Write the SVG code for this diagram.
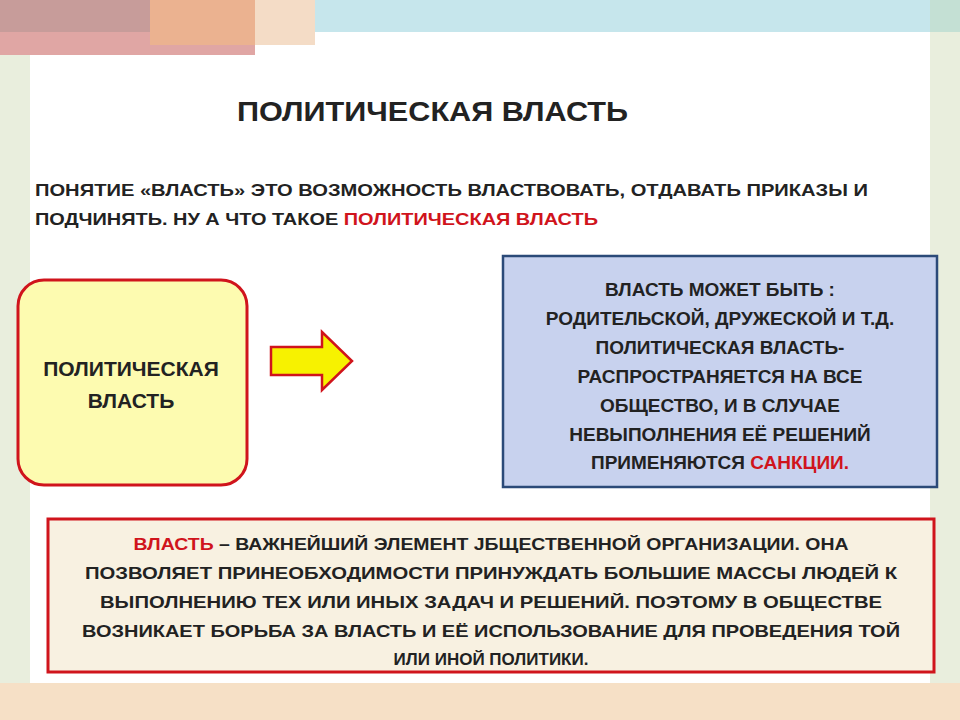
<svg xmlns="http://www.w3.org/2000/svg" width="960" height="720" viewBox="0 0 960 720">
<style>
text{font-family:"Liberation Sans",Arial,sans-serif;font-weight:bold;fill:#222}
.t{font-size:17px}
.b{font-size:19px}
.c{text-anchor:middle}
.r{fill:#d0141c}
</style>
<rect width="960" height="720" fill="#fff"/>
<g id="decor">
<rect x="315" y="0" width="645" height="32" fill="#c6e6ec"/>
<rect x="0" y="55" width="30" height="630" fill="#e9eedd"/>
<rect x="930" y="0" width="30" height="685" fill="#e9eedd"/>
<rect x="930" y="0" width="30" height="32" fill="#c4e0d4"/>
<rect x="0" y="683" width="960" height="37" fill="#f6e0c6"/>
<rect x="0" y="0" width="255" height="55" fill="#e0a6a4"/>
<rect x="0" y="0" width="150" height="32" fill="#c79c9a"/>
<rect x="150" y="0" width="105" height="45" fill="#ebb290"/>
<rect x="255" y="0" width="60" height="45" fill="#f4dcc6"/>
</g>
<g id="title"><text x="237" y="121" font-size="28" textLength="391" lengthAdjust="spacingAndGlyphs">ПОЛИТИЧЕСКАЯ ВЛАСТЬ</text></g>
<g id="intro">
<text x="35" y="196" class="t" textLength="833" lengthAdjust="spacingAndGlyphs">ПОНЯТИЕ «ВЛАСТЬ»   ЭТО ВОЗМОЖНОСТЬ ВЛАСТВОВАТЬ, ОТДАВАТЬ ПРИКАЗЫ И</text>
<text x="35" y="225" class="t" textLength="563" lengthAdjust="spacingAndGlyphs">ПОДЧИНЯТЬ. НУ  А ЧТО ТАКОЕ <tspan class="r">ПОЛИТИЧЕСКАЯ ВЛАСТЬ</tspan></text>
</g>
<g id="node-political">
<rect x="18" y="280" width="229" height="205" rx="26" fill="#fdfbb0" stroke="#d0141c" stroke-width="3"/>
<text x="131" y="376" class="c" font-size="21">ПОЛИТИЧЕСКАЯ</text>
<text x="131" y="408" class="c" font-size="21">ВЛАСТЬ</text>
</g>
<g id="connectors">
<polygon points="271,347 322,347 322,332 352,361 322,390 322,375 271,375" fill="#f7f200" stroke="#d0141c" stroke-width="2.5"/>
</g>
<g id="node-info">
<rect x="503" y="256" width="434" height="231" fill="#c8d2ee" stroke="#2b4a78" stroke-width="2.5"/>
<text x="720" y="296" class="c b">ВЛАСТЬ МОЖЕТ БЫТЬ :</text>
<text x="720" y="325" class="c b">РОДИТЕЛЬСКОЙ, ДРУЖЕСКОЙ И Т.Д.</text>
<text x="720" y="354" class="c b">ПОЛИТИЧЕСКАЯ ВЛАСТЬ-</text>
<text x="720" y="383" class="c b">РАСПРОСТРАНЯЕТСЯ НА ВСЕ</text>
<text x="720" y="412" class="c b">ОБЩЕСТВО, И В СЛУЧАЕ</text>
<text x="720" y="441" class="c b">НЕВЫПОЛНЕНИЯ ЕЁ РЕШЕНИЙ</text>
<text x="720" y="469" class="c b">ПРИМЕНЯЮТСЯ <tspan class="r">САНКЦИИ.</tspan></text>
</g>
<g id="node-definition">
<rect x="48" y="519" width="886" height="153" fill="#f8f1e1" stroke="#d0141c" stroke-width="3"/>
<text x="491" y="550" class="c t" textLength="715" lengthAdjust="spacingAndGlyphs"><tspan class="r">ВЛАСТЬ</tspan> – ВАЖНЕЙШИЙ ЭЛЕМЕНТ  ЈБЩЕСТВЕННОЙ ОРГАНИЗАЦИИ. ОНА</text>
<text x="491" y="579" class="c t" textLength="812" lengthAdjust="spacingAndGlyphs">ПОЗВОЛЯЕТ ПРИНЕОБХОДИМОСТИ ПРИНУЖДАТЬ БОЛЬШИЕ  МАССЫ ЛЮДЕЙ  К</text>
<text x="491" y="608" class="c t" textLength="782" lengthAdjust="spacingAndGlyphs">ВЫПОЛНЕНИЮ ТЕХ ИЛИ ИНЫХ ЗАДАЧ  И РЕШЕНИЙ. ПОЭТОМУ В ОБЩЕСТВЕ</text>
<text x="491" y="637" class="c t" textLength="818" lengthAdjust="spacingAndGlyphs">ВОЗНИКАЕТ БОРЬБА ЗА ВЛАСТЬ  И ЕЁ ИСПОЛЬЗОВАНИЕ ДЛЯ ПРОВЕДЕНИЯ  ТОЙ</text>
<text x="491" y="665" class="c t">ИЛИ ИНОЙ ПОЛИТИКИ.</text>
</g>
</svg>
